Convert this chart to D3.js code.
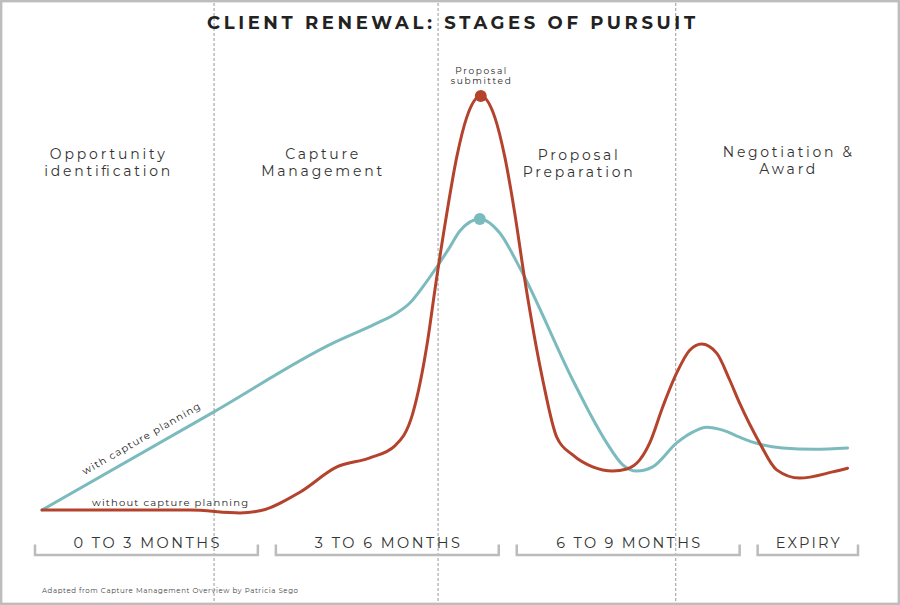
<!DOCTYPE html>
<html>
<head>
<meta charset="utf-8">
<script src="https://cdn.jsdelivr.net/npm/d3@7"></script>
<style>
  html, body { margin: 0; padding: 0; background: #fff; }
  svg { display: block; font-family: "Montserrat", "DejaVu Sans", "Open Sans", sans-serif; }
</style>
</head>
<body>
<svg id="chart" width="900" height="605"></svg>
<script>
// ---------------- DATA ----------------
const title = "CLIENT RENEWAL: STAGES OF PURSUIT";
const stageLabels = [["Opportunity", "identification"], ["Capture", "Management"], ["Proposal", "Preparation"], ["Negotiation &", "Award"]];
const stageBoundaries = [2.23, 5.02, 7.98];           // months
const periodLabels = ["0 TO 3 MONTHS", "3 TO 6 MONTHS", "6 TO 9 MONTHS", "EXPIRY"];
const periodStarts = [0, 3, 6, 9];
const periodEnds = [3, 6, 9, 10.25];

// "with capture planning"
const withMonths = [0.087, 2.228, 3.71, 4.233, 4.506, 4.668, 4.83, 5.004, 5.166, 5.291, 5.54, 5.789, 6.038, 6.697, 6.909, 7.121, 7.32, 7.494, 7.693, 7.992, 8.191, 8.365, 8.565, 8.776, 8.938, 9.311, 9.71, 10.12];
const withValues = [0, 23.7, 40.3, 44.9, 47.6, 50.0, 53.9, 58.7, 63.5, 67.4, 70.3, 66.9, 58.5, 31.4, 23.4, 16.2, 10.9, 9.4, 10.4, 16.2, 18.8, 20.0, 19.3, 17.6, 16.4, 15.0, 14.7, 15.0];

// "without capture planning"
const withoutMonths = [0.087, 1.93, 2.552, 2.801, 3.299, 3.76, 4.17, 4.482, 4.706, 4.892, 4.98, 5.129, 5.253, 5.378, 5.552, 5.726, 5.851, 5.975, 6.1, 6.324, 6.498, 6.697, 6.946, 7.195, 7.37, 7.532, 7.656, 7.818, 7.992, 8.154, 8.303, 8.49, 8.652, 8.776, 9.025, 9.237, 9.523, 9.934, 10.12];
const withoutValues = [0, 0, -0.7, -0.2, 4.3, 10.4, 12.6, 15.5, 23.4, 41.1, 53.1, 71.7, 85.3, 94.9, 100, 94.9, 85.3, 71.7, 55.6, 31.4, 17.6, 13.3, 10.4, 9.4, 9.9, 12.1, 16.2, 24.9, 33.1, 38.6, 40.1, 37.9, 31.4, 25.8, 16.2, 9.7, 7.7, 9.2, 10.1];

const seriesNames = ["with capture planning", "without capture planning"];
const peakLabel = ["Proposal", "submitted"];
const footnote = "Adapted from Capture Management Overview by Patricia Sego";

// ---------------- LAYOUT ----------------
const W = 900, H = 605;
const teal = "#7bbbbe", red = "#b4432d";
const svg = d3.select("#chart");
const x = d3.scaleLinear().domain([0, 10.25]).range([35, 858]);
const y = d3.scaleLinear().domain([0, 100]).range([510, 96]);

// frame
svg.append("rect").attr("x", 1.2).attr("y", 1.2).attr("width", W - 2.4).attr("height", H - 2.4)
  .attr("fill", "#fff").attr("stroke", "#bdbdbd").attr("stroke-width", 2.4);

// stage boundaries
svg.selectAll("line.stage").data(stageBoundaries).join("line").attr("class", "stage")
  .attr("x1", d => x(d)).attr("x2", d => x(d)).attr("y1", 3).attr("y2", H - 3)
  .attr("stroke", "#9a9a9a").attr("stroke-width", 1).attr("stroke-dasharray", "3,2");

// title
svg.append("text").attr("x", 451).attr("y", 29).attr("text-anchor", "middle")
  .attr("font-size", 18).attr("font-weight", "bold").attr("fill", "#222")
  .attr("textLength", 488).attr("lengthAdjust", "spacing").text(title);

// stage labels
const stageLayout = [
  {m: 0.9, b: 159, w: [115, 126]},
  {m: 3.57, b: 159, w: [73, 121]},
  {m: 6.76, b: 160, w: [80, 110]},
  {m: 9.37, b: 157, w: [129, 56]}
];
stageLabels.forEach((lines, i) => {
  const L = stageLayout[i];
  lines.forEach((t, j) => {
    svg.append("text").attr("x", x(L.m)).attr("y", L.b + j * 16.5)
      .attr("text-anchor", "middle").attr("font-size", 14).attr("fill", "#333")
      .attr("textLength", L.w[j]).attr("lengthAdjust", "spacing").text(t);
  });
});

// period brackets
const gap = 18;
periodLabels.forEach((t, i) => {
  const x0 = x(periodStarts[i]);
  const x1 = x(periodEnds[i]) - (i < periodLabels.length - 1 ? gap : 0);
  svg.append("path").attr("d", `M${x0},544.5V555H${x1}V544.5`)
    .attr("fill", "none").attr("stroke", "#bbbbbb").attr("stroke-width", 2.5);
  const wLab = [146, 145, 144, 64][i];
  svg.append("text").attr("x", (x0 + x1) / 2).attr("y", 547.5).attr("text-anchor", "middle")
    .attr("font-size", 14.5).attr("fill", "#333")
    .attr("textLength", wLab).attr("lengthAdjust", "spacing").text(t);
});

// lines
const line = d3.line().x(d => x(d[0])).y(d => y(d[1])).curve(d3.curveMonotoneX);
const withData = withMonths.map((m, i) => [m, withValues[i]]);
const withoutData = withoutMonths.map((m, i) => [m, withoutValues[i]]);

svg.append("path").datum(withData).attr("d", line).attr("fill", "none")
  .attr("stroke", teal).attr("stroke-width", 3).attr("stroke-linejoin", "round").attr("stroke-linecap", "round");
svg.append("path").datum(withoutData).attr("d", line).attr("fill", "none")
  .attr("stroke", red).attr("stroke-width", 3).attr("stroke-linejoin", "round").attr("stroke-linecap", "round");

// peak dots
const wPeak = withData[d3.maxIndex(withData, d => d[1])];
const woPeak = withoutData[d3.maxIndex(withoutData, d => d[1])];
svg.append("circle").attr("cx", x(wPeak[0])).attr("cy", y(wPeak[1])).attr("r", 6).attr("fill", teal);
svg.append("circle").attr("cx", x(woPeak[0])).attr("cy", y(woPeak[1])).attr("r", 6).attr("fill", red);

// peak label
peakLabel.forEach((t, j) => {
  svg.append("text").attr("x", x(woPeak[0])).attr("y", 73.5 + j * 10.8).attr("text-anchor", "middle")
    .attr("font-size", 9).attr("fill", "#222")
    .attr("textLength", [51, 60][j]).attr("lengthAdjust", "spacing").text(t);
});

// series labels
const p0 = [x(withData[0][0]), y(withData[0][1])];
const p1 = [x(withData[2][0]), y(withData[2][1])];
const ang = Math.atan2(p1[1] - p0[1], p1[0] - p0[0]) * 180 / Math.PI;
const tm = 1.4;
const tf = (tm - withData[0][0]) / (withData[2][0] - withData[0][0]);
const lx = x(tm), ly = y(withData[0][1] + tf * (withData[2][1] - withData[0][1]));
svg.append("text").attr("transform", `translate(${lx},${ly}) rotate(${ang})`)
  .attr("y", -9).attr("text-anchor", "middle").attr("font-size", 10).attr("fill", "#222")
  .attr("textLength", 134).attr("lengthAdjust", "spacing").text(seriesNames[0]);

svg.append("text").attr("x", x(0.71)).attr("y", 505.5).attr("font-size", 10).attr("fill", "#222")
  .attr("textLength", 156).attr("lengthAdjust", "spacing").text(seriesNames[1]);

// footnote
svg.append("text").attr("x", 42).attr("y", 592.5).attr("font-size", 7).attr("fill", "#444")
  .attr("textLength", 256).attr("lengthAdjust", "spacing").text(footnote);
</script>
</body>
</html>
